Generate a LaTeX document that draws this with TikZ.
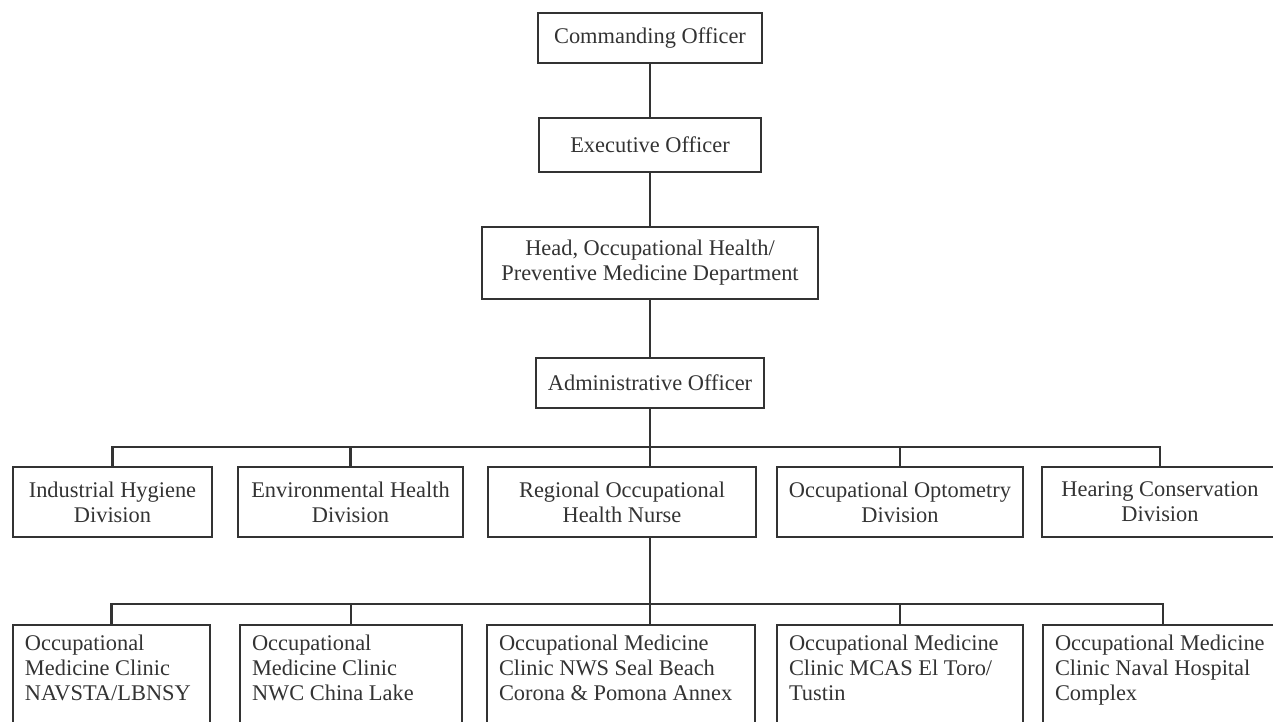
\documentclass[tikz,border=0pt]{standalone}
\usepackage{fontspec}
\setmainfont{Liberation Serif}
\usetikzlibrary{positioning,calc}
\definecolor{ink}{gray}{0.2}

\begin{document}
\begin{tikzpicture}[
    x=0.5pt, y=-0.5pt,
    officer/.style={rectangle, draw=ink, line width=1.2pt, text=ink, minimum height=25pt, inner sep=4pt, align=center, font=\fontsize{11.2}{12.5}\selectfont},
    division/.style={officer, minimum height=35pt},
    clinic/.style={rectangle, draw=ink, line width=1.2pt, text=ink, anchor=north, align=flush left, inner xsep=6pt, inner ysep=4pt, text height=8.5pt, text depth=70pt, font=\fontsize{11.2}{12.5}\selectfont},
    link/.style={draw=ink, line width=1.2pt}
]

% page frame
\useasboundingbox (0,0) rectangle (1273,722);
\clip (0,0) rectangle (1273,722);

% --- command chain ---
\node[officer, minimum width=112pt] (co) at (650,38) {Commanding Officer};
\node[officer, minimum width=111pt, minimum height=27pt] (xo) at (650,145) {Executive Officer};
\node[officer, minimum width=168pt, minimum height=36pt] (head) at (650,263) {Head, Occupational Health/\\Preventive Medicine Department};
\node[officer, minimum width=114pt] (admin) at (650,383) {Administrative Officer};

% --- divisions ---
\node[division, minimum width=99.5pt] (hyg) at (112.5,502) {Industrial Hygiene\\Division};
\node[division, minimum width=112.5pt] (env) at (350.5,502) {Environmental Health\\Division};
\node[division, minimum width=134pt] (nurse) at (622,502) {Regional Occupational\\Health Nurse};
\node[division, minimum width=123pt] (opt) at (900,502) {Occupational Optometry\\Division};
\node[division, minimum width=118pt] (hear) at (1160,502) {Hearing Conservation\\Division};

% --- clinics ---
\node[clinic, text width=86.5pt] (navsta) at (111.5,624) {Occupational\\Medicine Clinic\\NAVSTA/LBNSY};
\node[clinic, text width=99pt] (chinalake) at (351,624) {Occupational\\Medicine Clinic\\NWC China Lake};
\node[clinic, text width=122pt] (sealbeach) at (621,624) {Occupational Medicine\\Clinic NWS Seal Beach\\Corona \& Pomona Annex};
\node[clinic, text width=111pt] (tustin) at (900,624) {Occupational Medicine\\Clinic MCAS El Toro/\\Tustin};
\node[clinic, text width=108pt] (naval) at (1163,624) {Occupational Medicine\\Clinic Naval Hospital\\Complex};

% --- wiring ---
\draw[link] (co) -- (xo);
\draw[link] (xo) -- (head);
\draw[link] (head) -- (admin);

\coordinate (bus1) at (650,447);
\coordinate (bus2) at (650,604);

\draw[link] (admin.south) -- (admin.south |- nurse.north);
\foreach \d in {hyg,env,opt,hear}
    \draw[link] (bus1) -| (\d.north);

\draw[link] (admin.south |- nurse.south) -- (admin.south |- sealbeach.north);
\foreach \c in {navsta,chinalake,tustin,naval}
    \draw[link] (bus2) -| (\c.north);

\end{tikzpicture}
\end{document}
